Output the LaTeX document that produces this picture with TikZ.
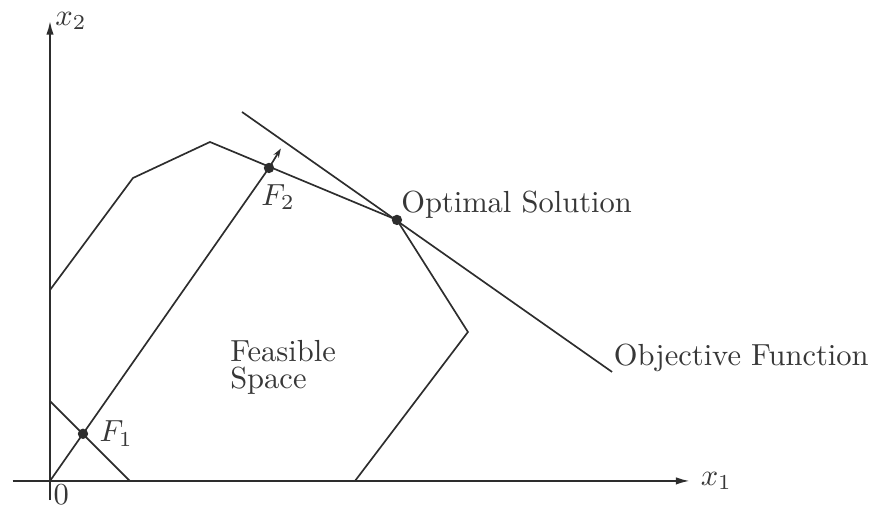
\documentclass[tikz,border=0pt]{standalone}
\usepackage{amsmath,amssymb}
\usepackage{xcolor}
\usepackage{tikz}
\usetikzlibrary{calc,arrows.meta,positioning}
\definecolor{lpInk}{RGB}{45,45,45}
\definecolor{lpText}{RGB}{55,55,55}

\begin{document}
\begin{tikzpicture}[scale=1.0,
  edge/.style={lpInk, line width=0.55pt},
  axisline/.style={lpInk, line width=0.6pt, -{Latex[length=4.5pt,width=2.4pt]}},
  soldot/.style={circle, fill=lpInk, inner sep=0pt, minimum size=3.4pt},
  lbl/.style={text=lpText}]
\useasboundingbox (-0.576,-0.311) rectangle (9.551,5.541);
% axes
\coordinate (O) at (0,0);
\coordinate (xstart) at (-0.43,0);
\coordinate (xend) at (7.37,0);
\coordinate (ystart) at (0,-0.22);
\coordinate (yend) at (0,5.30);
\draw[axisline] (xstart) -- (xend) node[right, lbl] (x1lbl) {$x_1$};
\draw[axisline] (ystart) -- (yend) node[right, lbl, inner sep=1.5pt] (x2lbl) {$x_2$};
\node[lbl, below right, inner sep=1pt] (zero) at (O) {$0$};
% feasible space boundary
\coordinate (p1) at (0,2.20);
\coordinate (p2) at (0.956,3.49);
\coordinate (p3) at (1.843,3.905);
\coordinate (opt) at (3.997,3.007);
\coordinate (p5) at (4.815,1.716);
\coordinate (p6) at (3.514,0);
\draw[edge] (p1) -- (p2) -- (p3) -- (opt) -- (p5) -- (p6);
% direction of improvement
\coordinate (f1) at (0.38,0.543);
\coordinate (f2) at (2.523,3.606);
\draw[edge] (O) -- (f2);
% objective contours
\coordinate (c1a) at (0,0.92);
\coordinate (c1b) at (0.92,0);
\draw[edge] (c1a) -- (c1b);
\coordinate (c2a) at (2.212,4.251);
\coordinate (c2b) at (6.475,1.256);
\draw[edge] (c2a) -- (c2b);
\coordinate (dirtip) at (2.66,3.83);
\draw[edge, -{Stealth[length=3pt,width=2pt]}] (f2) -- (dirtip);
\foreach \p in {f1,f2,opt}
{
\node[soldot] (\p dot) at (\p) {};
}
\node[lbl, right=0pt of f1dot] (f1lbl) {$F_1$};
\node[lbl, below=0pt of f2dot, xshift=3pt] (f2lbl) {$F_2$};
\node[lbl, anchor=base west, inner sep=0pt] (optlbl) at (4.04,3.09) {Optimal Solution};
\node[lbl, anchor=base west, inner sep=0pt] (objlbl) at (6.49,1.33) {Objective Function};
\node[lbl, anchor=north west, align=left, inner sep=0pt] (feaslbl) at (2.07,1.63) {Feasible\\[-3pt] Space};
\end{tikzpicture}
\end{document}
